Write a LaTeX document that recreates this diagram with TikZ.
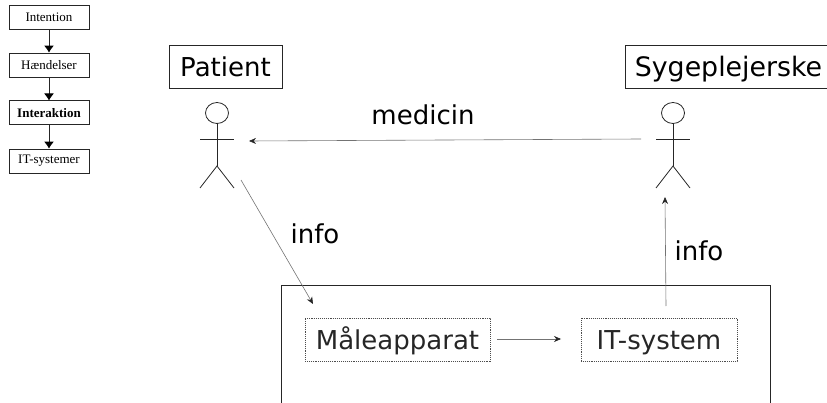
\documentclass[tikz,border=0pt]{standalone}
\usepackage{fontspec}
\setmainfont{DejaVu Sans}
\newfontfamily\smallserif{Liberation Serif}
\usetikzlibrary{arrows.meta}
\tikzset{
  x=1pt,y=-1pt,
  flowbox/.style={draw=black!85,line width=0.8pt,minimum width=80pt,minimum height=24pt,inner sep=0pt,font=\smallserif\fontsize{13}{15}\selectfont},
  titlebox/.style={draw=black!85,line width=0.8pt,minimum height=43pt,inner sep=0pt,text height=20pt,text depth=0pt,font=\fontsize{26}{30}\selectfont},
  devicebox/.style={draw=black!70,densely dotted,line width=0.9pt,minimum height=43pt,inner sep=0pt,text height=20pt,text depth=0pt,text=black!85,font=\fontsize{26}{30}\selectfont},
  label/.style={inner sep=0pt,font=\fontsize{26}{30}\selectfont},
  flowarrow/.style={draw=black!85,line width=0.9pt,-{Latex[length=7pt,width=10pt,color=black]}},
  thinarrow/.style={draw=black!55,line width=0.6pt,-{Stealth[length=7pt,width=6pt,color=black!85]}},
  stick/.style={draw=black!85,line width=0.8pt},
}
\newcommand{\stickman}[2]{%
  \draw[stick] (#1,#2) ellipse [x radius=11.5pt,y radius=10.5pt];
  \draw[stick] (#1,#2+10) -- (#1,#2+53);
  \draw[stick] (#1-17,#2+26) -- (#1+17,#2+26);
  \draw[stick] (#1-17,#2+75) -- (#1,#2+53) -- (#1+17,#2+75);
}
\begin{document}
\begin{tikzpicture}
\useasboundingbox (0,0) rectangle (827,403);
\clip (0,0) rectangle (827,403);
% flow
\node[flowbox] (intention) at (49,17) {Intention};
\node[flowbox] (haendelser) at (49,65) {Hændelser};
\node[flowbox,line width=1pt] (interaktion) at (49,113) {\textbf{Interaktion}};
\node[flowbox] (itsys) at (49,161) {IT-systemer};
\draw[flowarrow] (intention) -- (haendelser);
\draw[flowarrow] (haendelser) -- (interaktion);
\draw[flowarrow] (interaktion) -- (itsys);
% actors
\node[titlebox,minimum width=113pt] (patient) at (225.5,66.5) {Patient};
\node[titlebox,minimum width=210pt,font=\fontsize{26.8}{30}\selectfont] (syg) at (730,66.5) {\hspace*{-3pt}Sygeplejerske};
\stickman{217}{113}
\stickman{673}{113}
% system
\draw[draw=black!85,line width=0.8pt] (281,420) -- (281,285) -- (770,285) -- (770,420);
\node[devicebox,minimum width=185pt] (maale) at (397.5,339.5) {Måleapparat};
\node[devicebox,minimum width=156pt] (it) at (659,339.5) {IT-system};
% connectors
\coordinate (a1) at (641,139); \coordinate (a2) at (249,141);
\coordinate (b1) at (241,180); \coordinate (b2) at (313,304);
\coordinate (c1) at (666,306); \coordinate (c2) at (665,197);
\coordinate (d1) at (497,339); \coordinate (d2) at (561,339);
\draw[thinarrow] (a1) -- (a2);
\draw[thinarrow] (b1) -- (b2);
\draw[thinarrow] (c1) -- (c2);
\draw[thinarrow] (d1) -- (d2);
% labels
\node[label] (medicin) at (423,115) {medicin};
\node[label] (info1) at (315,234) {info};
\node[label] (info2) at (699,251) {info};
\end{tikzpicture}
\end{document}
